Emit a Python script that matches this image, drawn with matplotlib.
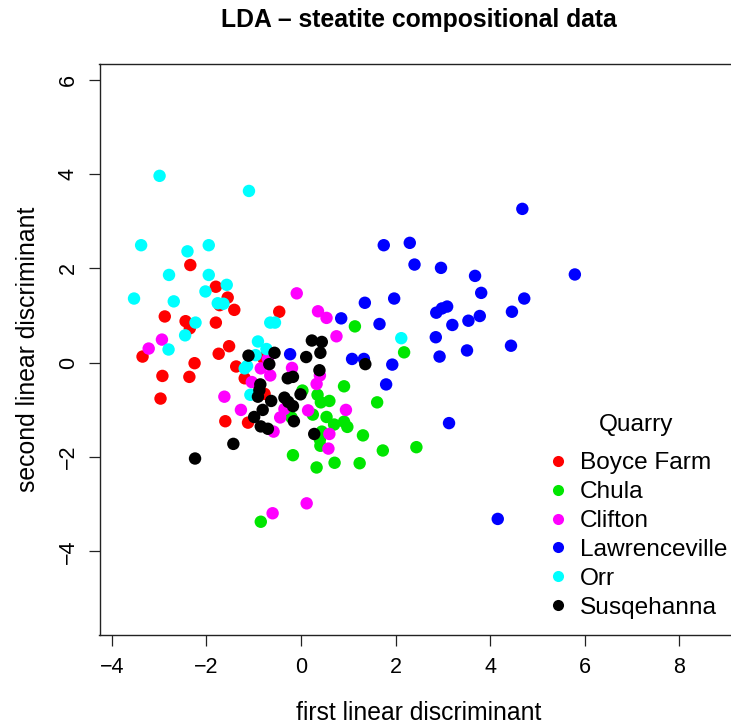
import matplotlib
matplotlib.use("Agg")
import matplotlib.pyplot as plt
from matplotlib.lines import Line2D

plt.rcParams["font.family"] = ["Liberation Sans", "DejaVu Sans"]

# LDA scores, one pair of lists per quarry
quarries = ["Boyce Farm", "Chula", "Clifton", "Lawrenceville", "Orr", "Susqehanna"]
colors = ["#FF0000", "#00E600", "#FF00FF", "#0000FF", "#00FFFF", "#000000"]

boyce_x = [-2.34, -1.80, -1.55, -1.72, -1.41, -2.88, -2.44, -2.35, -1.80, -0.46, -1.52, -1.74,
           -3.35, -2.25, -2.93, -2.36, -2.97, -1.37, -1.19, -1.60, -1.12, -0.80, -0.77]
boyce_y = [2.07, 1.61, 1.38, 1.22, 1.12, 0.98, 0.88, 0.73, 0.85, 1.08, 0.35, 0.19,
           0.13, -0.01, -0.28, -0.30, -0.76, -0.08, -0.33, -1.24, -1.27, 0.10, -0.66]

chula_x = [1.14, 2.18, 0.91, 0.03, 0.35, 0.60, 0.42, 1.61, 0.25, 0.54, 0.70, 0.91, 0.98,
           -0.20, 0.44, 0.40, 0.41, 1.31, 1.73, 2.44, -0.17, 0.33, 0.71, 1.24, -0.85]
chula_y = [0.77, 0.22, -0.50, -0.59, -0.68, -0.81, -0.84, -0.84, -1.10, -1.15, -1.31, -1.25, -1.36,
           -1.16, -1.46, -1.63, -1.76, -1.54, -1.86, -1.79, -1.96, -2.22, -2.12, -2.13, -3.37]

clifton_x = [-0.09, 0.36, 0.54, 0.75, -2.94, -3.22, -0.85, -0.19, -0.65, 0.40, -1.04, 0.33,
             -1.62, -1.27, -0.35, 0.15, 0.95, -0.44, -0.58, 0.60, 0.58, 0.12, -0.60, -0.70]
clifton_y = [1.47, 1.09, 0.95, 0.56, 0.49, 0.30, -0.12, -0.11, -0.27, -0.27, -0.41, -0.45,
             -0.72, -1.00, -0.98, -1.01, -1.00, -1.16, -1.46, -1.51, -1.82, -2.98, -3.19, 0.08]

lawr_x = [4.68, 1.75, 2.30, 2.40, 2.96, 3.68, 5.79, 3.81, 1.35, 1.97, 4.72, 2.86, 2.98, 3.09,
          3.78, 4.46, 0.85, 1.66, 3.20, 3.54, 2.85, 4.44, -0.23, 1.08, 1.33, 2.93, 3.51,
          1.93, 1.80, 3.13, 4.16]
lawr_y = [3.26, 2.49, 2.54, 2.08, 2.01, 1.84, 1.87, 1.48, 1.27, 1.36, 1.36, 1.06, 1.15, 1.19,
          0.99, 1.08, 0.94, 0.82, 0.80, 0.89, 0.54, 0.36, 0.18, 0.08, 0.08, 0.13, 0.26,
          -0.04, -0.46, -1.28, -3.31]

orr_x = [-2.99, -1.10, -3.38, -2.40, -1.95, -2.79, -1.95, -1.57, -2.02, -3.53, -2.69, -1.76,
         -1.64, -2.23, -2.45, -2.80, -0.65, -0.55, 2.12, -0.91, -0.73, -0.96, -1.14, -1.19, -1.07]
orr_y = [3.96, 3.64, 2.49, 2.36, 2.49, 1.86, 1.86, 1.65, 1.51, 1.36, 1.30, 1.26,
         1.25, 0.85, 0.58, 0.28, 0.85, 0.85, 0.52, 0.45, 0.29, 0.16, -0.07, -0.12, -0.68]

susq_x = [0.23, 0.44, -0.56, -1.11, 0.11, 0.41, -0.67, 1.36, 0.39, -0.28, -0.17, -0.86, -0.88,
          -0.91, -0.63, -0.35, -0.27, -0.17, -0.01, -0.81, -0.99, -0.15, -0.85, -0.70, 0.28,
          -1.43, -2.24]
susq_y = [0.47, 0.44, 0.21, 0.15, 0.12, 0.21, -0.03, -0.03, -0.16, -0.33, -0.30, -0.46, -0.58,
          -0.72, -0.81, -0.74, -0.83, -0.92, -0.67, -1.00, -1.15, -1.24, -1.35, -1.40, -1.51,
          -1.72, -2.03]

xs = [boyce_x, chula_x, clifton_x, lawr_x, orr_x, susq_x]
ys = [boyce_y, chula_y, clifton_y, lawr_y, orr_y, susq_y]

x_ticks = [-4, -2, 0, 2, 4, 6, 8]
y_ticks = [-4, -2, 0, 2, 4, 6]

W, H = 731, 725
fig = plt.figure(figsize=(W / 100, H / 100), dpi=100)
# plot region in pixels: left 99.5, right ~738.5 (runs off the image), top 64, bottom 635
ax = fig.add_axes([99.5 / W, (H - 635) / H, (738.5 - 99.5) / W, (635 - 64) / H])

for name, c, x, y in zip(quarries, colors, xs, ys):
    ax.scatter(x, y, s=80, color=c, edgecolors="none", label=name, zorder=3)

ax.set_xlim(-4.26, 9.25)
ax.set_ylim(-5.77, 6.33)
ax.set_xticks(x_ticks)
ax.set_yticks(y_ticks)
ax.tick_params(direction="out", length=8, width=0.9, labelsize=15.5, color="#222222")
ax.tick_params(axis="x", pad=8)
ax.tick_params(axis="y", pad=7)
for lab in ax.get_yticklabels():
    lab.set_rotation(90)
    lab.set_va("center")
for sp in ax.spines.values():
    sp.set_linewidth(1.0)
    sp.set_color("#222222")

ax.set_xlabel("first linear discriminant", fontsize=17.8)
ax.xaxis.set_label_coords(419 / W, (H - 720.5) / H, transform=fig.transFigure)
ax.xaxis.label.set_va("baseline")
ax.set_ylabel("second linear discriminant", fontsize=17.8)
ax.yaxis.set_label_coords(35 / W, (H - 349.5) / H, transform=fig.transFigure)
ax.yaxis.label.set_va("baseline")

fig.text(419 / W, (H - 26.7) / H, "LDA \u2013 steatite compositional data",
         ha="center", va="baseline", fontsize=17.8, fontweight="bold")

# legend: entries, with the title placed on its own like R does
handles = [Line2D([], [], marker="o", linestyle="none", markersize=8,
                  markerfacecolor=c, markeredgecolor="none") for c in colors]
leg = ax.legend(handles, quarries, loc="center",
                bbox_to_anchor=(638 / W, (H - 535.5) / H), bbox_transform=fig.transFigure,
                frameon=False, fontsize=17.6, borderpad=0,
                handlelength=0.8, handletextpad=0.5, labelspacing=0.28, borderaxespad=0)
fig.text(636 / W, (H - 425) / H, "Quarry", ha="center", va="center", fontsize=17.6)

fig.savefig("out.png", dpi=100)
